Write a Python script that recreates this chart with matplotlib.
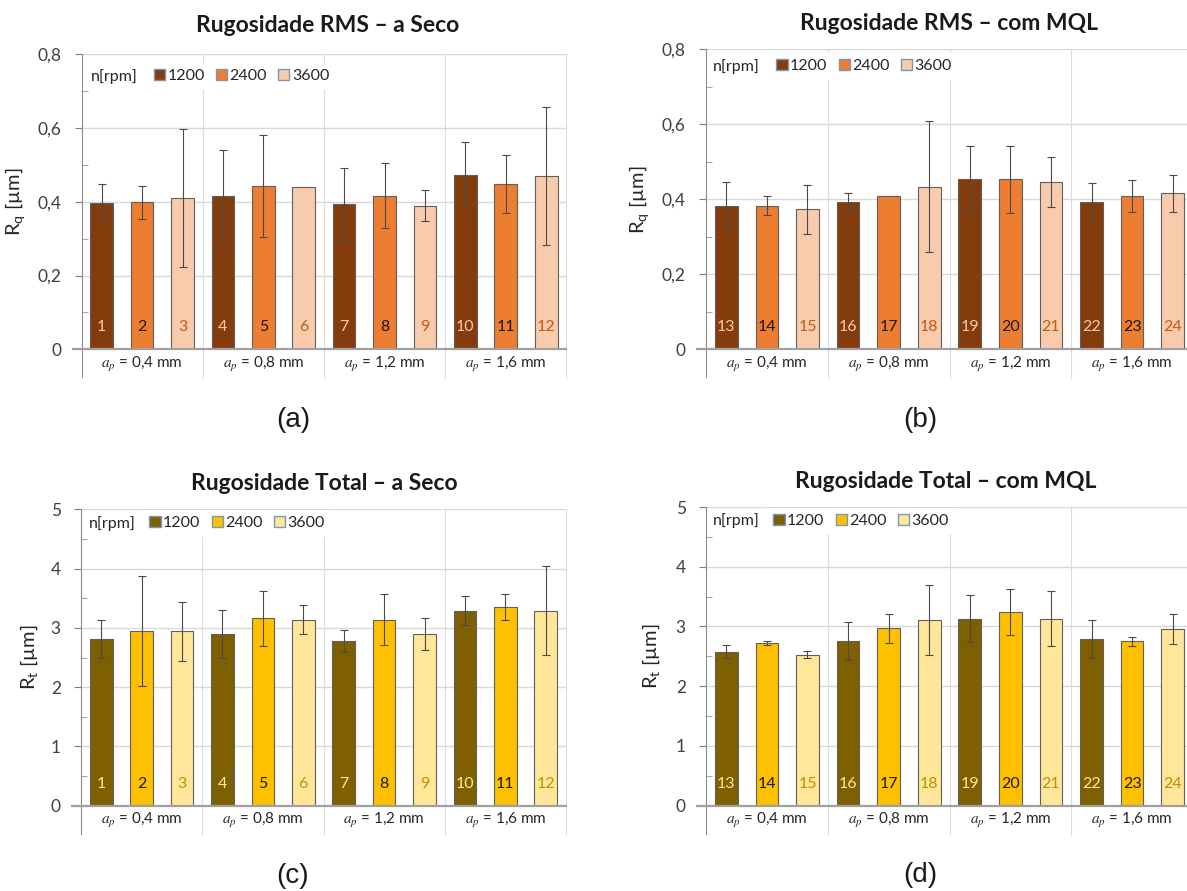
import matplotlib
matplotlib.use("Agg")
import matplotlib.pyplot as plt
import matplotlib.transforms as mtransforms
from matplotlib.patches import Patch
from matplotlib.ticker import AutoMinorLocator

plt.rcParams['font.family'] = ['Lato', 'DejaVu Sans']
plt.rcParams['mathtext.fontset'] = 'stix'

# ---- data -------------------------------------------------------------
depths = ["$a_p$ = 0,4 mm", "$a_p$ = 0,8 mm", "$a_p$ = 1,2 mm", "$a_p$ = 1,6 mm"]
speeds = ["1200", "2400", "3600"]

ids_dry = list(range(1, 13))
ids_mql = list(range(13, 25))

rq_dry = [0.397, 0.399, 0.410, 0.417, 0.443, 0.439, 0.393, 0.417, 0.389, 0.474, 0.448, 0.469]
rq_dry_sd = [0.050, 0.045, 0.188, 0.124, 0.138, 0.000, 0.098, 0.088, 0.042, 0.089, 0.078, 0.187]

rq_mql = [0.382, 0.383, 0.373, 0.393, 0.408, 0.434, 0.453, 0.453, 0.446, 0.393, 0.409, 0.416]
rq_mql_sd = [0.065, 0.026, 0.066, 0.025, 0.000, 0.174, 0.090, 0.090, 0.066, 0.050, 0.043, 0.050]

rt_dry = [2.82, 2.95, 2.94, 2.90, 3.16, 3.14, 2.78, 3.14, 2.90, 3.29, 3.35, 3.29]
rt_dry_sd = [0.32, 0.93, 0.50, 0.40, 0.46, 0.24, 0.19, 0.43, 0.27, 0.25, 0.22, 0.75]

rt_mql = [2.58, 2.72, 2.53, 2.76, 2.97, 3.11, 3.13, 3.24, 3.13, 2.79, 2.75, 2.96]
rt_mql_sd = [0.115, 0.035, 0.065, 0.32, 0.24, 0.58, 0.39, 0.39, 0.46, 0.32, 0.07, 0.245]

rq_ticks = [0, 0.2, 0.4, 0.6, 0.8]
rq_ticklabels = ["0", "0,2", "0,4", "0,6", "0,8"]
rt_ticks = [0, 1, 2, 3, 4, 5]
rt_ticklabels = ["0", "1", "2", "3", "4", "5"]

# ---- styling ----------------------------------------------------------
orange_fill = ["#843c0c", "#ed7d31", "#f8cbad"]
orange_text = ["#f8cbad", "#1a1a1a", "#c55a11"]
gold_fill = ["#7f6000", "#ffc000", "#ffe699"]
gold_text = ["#ffe699", "#1a1a1a", "#bf9000"]

W, H = 1187, 891
fig = plt.figure(figsize=(W / 100, H / 100), dpi=100)
fig.patch.set_facecolor("white")


def px_axes(left, top, right, bottom):
    return fig.add_axes([left / W, 1 - bottom / H, (right - left) / W, (bottom - top) / H])


def draw_panel(ax, values, sd, ids, fills, txt, ticks, ticklabels, ylabel,
               ylab_x, legend_top_px, nrpm_px, square_px):
    n = len(values)
    xpos = [i + 0.5 for i in range(n)]
    ax.set_xlim(0, n)
    ax.set_ylim(ticks[0], ticks[-1])
    bbox = ax.get_window_extent()
    wpx, hpx = bbox.width, bbox.height

    for s in range(3):
        xs = xpos[s::3]
        vs = values[s::3]
        es = sd[s::3]
        ax.bar(xs, vs, width=0.56, color=fills[s], edgecolor="#5f5f5f",
               linewidth=0.8, zorder=3, label=speeds[s])
        ex = [x for x, e in zip(xs, es) if e > 0]
        ev = [v for v, e in zip(vs, es) if e > 0]
        ee = [e for e in es if e > 0]
        ax.errorbar(ex, ev, yerr=ee, fmt="none", ecolor="#4a4a4a",
                    elinewidth=0.8, capsize=3, capthick=0.8, zorder=4)

    # numbers inside the bars
    tr = mtransforms.blended_transform_factory(ax.transData, ax.transAxes)
    for i, (x, k) in enumerate(zip(xpos, ids)):
        ax.text(x, 22 / hpx, str(k), transform=tr, ha="center", va="center",
                fontsize=11.5, color=txt[i % 3], zorder=5)

    # y axis
    ax.set_yticks(ticks)
    ax.set_yticklabels(ticklabels)
    ax.yaxis.set_minor_locator(AutoMinorLocator(2))
    ax.tick_params(axis="y", which="major", direction="out", length=5, width=0.8,
                   color="#7f7f7f", labelsize=12.5, labelcolor="#404040", pad=9.5)
    ax.tick_params(axis="y", which="minor", direction="in", length=4, width=0.8,
                   color="#a6a6a6")
    ax.tick_params(axis="x", which="both", bottom=False, labelbottom=False)
    ax.yaxis.grid(True, which="major", color="#d9d9d9", linewidth=1.0)
    ax.set_axisbelow(True)
    for sp in ax.spines.values():
        sp.set_visible(False)
    ax.set_ylabel(ylabel, fontsize=14.5, color="#262626")
    ax.yaxis.set_label_coords(ylab_x / wpx, 0.5)

    # axis lines and group separators reaching down into the category band
    ax.plot([0, 0], [-28 / hpx, 1], transform=ax.transAxes, color="#8c8c8c",
            lw=0.8, clip_on=False, zorder=6)
    ax.plot([-9 / wpx, 1], [0, 0], transform=ax.transAxes, color="#a0a0a0",
            lw=1.6, clip_on=False, zorder=6)
    for b in range(3, n + 1, 3):
        ax.plot([b, b], [-29 / hpx, 1], transform=tr, color="#dcdcdc",
                lw=0.8, clip_on=False, zorder=0.5)

    # category labels
    for g, lab in enumerate(depths):
        ax.text(3 * g + 1.5, -15 / hpx, lab, transform=tr, ha="center",
                va="center", fontsize=11, color="#262626")

    # legend
    yl = 1 - legend_top_px / hpx
    ax.text(nrpm_px / wpx, yl, "n[rpm]", transform=ax.transAxes, ha="left",
            va="center", fontsize=11.5, color="#262626", zorder=7)
    handles = [Patch(facecolor=fills[s], edgecolor="#7a96b8", linewidth=1.0)
               for s in range(3)]
    leg = ax.legend(handles, speeds, ncol=3, loc="center left",
                    bbox_to_anchor=((square_px - 6) / wpx, yl),
                    frameon=True, fancybox=False, facecolor="white",
                    edgecolor="none", framealpha=1, fontsize=11.5,
                    handlelength=0.7, handleheight=0.7, handletextpad=0.15,
                    columnspacing=0.7, borderpad=0.4, borderaxespad=0)
    for t in leg.get_texts():
        t.set_color("#262626")
    leg.set_zorder(5)


ax_a = px_axes(81.5, 54.3, 566.4, 349.3)
ax_b = px_axes(706, 49.3, 1193, 349.3)
ax_c = px_axes(81, 509.3, 566, 805.7)
ax_d = px_axes(706, 507, 1193, 805.7)

rq_label = r"$\mathregular{R_q}$ [µm]"
rt_label = r"$\mathregular{R_t}$ [µm]"

draw_panel(ax_a, rq_dry, rq_dry_sd, ids_dry, orange_fill, orange_text,
           rq_ticks, rq_ticklabels, rq_label, -54.5, 22, 9, 72)
draw_panel(ax_b, rq_mql, rq_mql_sd, ids_mql, orange_fill, orange_text,
           rq_ticks, rq_ticklabels, rq_label, -55, 17, 7, 70)
draw_panel(ax_c, rt_dry, rt_dry_sd, ids_dry, gold_fill, gold_text,
           rt_ticks, rt_ticklabels, rt_label, -41, 14, 8, 68)
draw_panel(ax_d, rt_mql, rt_mql_sd, ids_mql, gold_fill, gold_text,
           rt_ticks, rt_ticklabels, rt_label, -44, 14, 7, 67)

titles = [("Rugosidade RMS – a Seco", 327.5, 25),
          ("Rugosidade RMS – com MQL", 949, 23),
          ("Rugosidade Total – a Seco", 324, 483),
          ("Rugosidade Total – com MQL", 946, 481)]
for txt, x, y in titles:
    fig.text(x / W, 1 - y / H, txt, ha="center", va="center", fontsize=16.5,
             fontweight="bold", color="#1a1a1a")

panel_tags = [("(a)", 293, 420), ("(b)", 920, 420), ("(c)", 293, 876), ("(d)", 920, 875)]
for txt, x, y in panel_tags:
    fig.text(x / W, 1 - y / H, txt, ha="center", va="center", fontsize=20,
             family="Liberation Sans", color="#1a1a1a")

fig.savefig("out.png", dpi=100)
